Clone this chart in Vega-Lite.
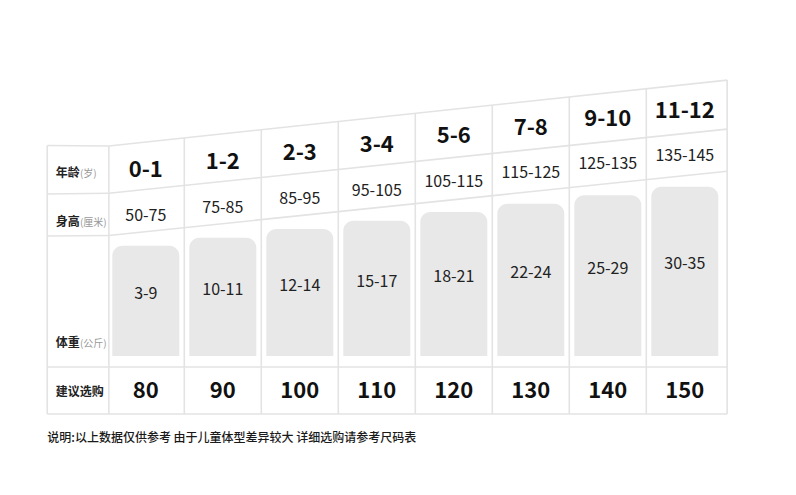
{
  "$schema": "https://vega.github.io/schema/vega-lite/v6.json",
  "width": 796,
  "height": 495,
  "autosize": {"type": "none"},
  "padding": 0,
  "background": "#ffffff",
  "config": {"view": {"stroke": null}, "text": {"font": "Noto Sans CJK SC"}},
  "datasets": {
    "cols": [
      {"col": 0, "age": "0-1", "ageY": 177.3, "height": "50-75", "heightY": 221, "weight": "3-9", "weightY": 299, "barTop": 245.7, "size": "80"},
      {"col": 1, "age": "1-2", "ageY": 169, "height": "75-85", "heightY": 212.7, "weight": "10-11", "weightY": 295, "barTop": 237.7, "size": "90"},
      {"col": 2, "age": "2-3", "ageY": 160.4, "height": "85-95", "heightY": 204, "weight": "12-14", "weightY": 291, "barTop": 229, "size": "100"},
      {"col": 3, "age": "3-4", "ageY": 152, "height": "95-105", "heightY": 196, "weight": "15-17", "weightY": 286.7, "barTop": 220.7, "size": "110"},
      {"col": 4, "age": "5-6", "ageY": 143.3, "height": "105-115", "heightY": 186.5, "weight": "18-21", "weightY": 282, "barTop": 212, "size": "120"},
      {"col": 5, "age": "7-8", "ageY": 134.7, "height": "115-125", "heightY": 177.7, "weight": "22-24", "weightY": 278.3, "barTop": 203.7, "size": "130"},
      {"col": 6, "age": "9-10", "ageY": 126.3, "height": "125-135", "heightY": 169.3, "weight": "25-29", "weightY": 274, "barTop": 195.3, "size": "140"},
      {"col": 7, "age": "11-12", "ageY": 118, "height": "135-145", "heightY": 161, "weight": "30-35", "weightY": 269.3, "barTop": 186.7, "size": "150"}
    ],
    "grid": [
      {"x": -1.28, "y": 145.5, "x2": -0.48, "y2": 146},
      {"x": -0.48, "y": 146, "x2": 7.55, "y2": 80.1},
      {"x": -1.28, "y": 194, "x2": -0.48, "y2": 193.3},
      {"x": -0.48, "y": 193.3, "x2": 7.55, "y2": 129.1},
      {"x": -1.28, "y": 236, "x2": -0.48, "y2": 235.5},
      {"x": -0.48, "y": 235.5, "x2": 7.55, "y2": 171.3},
      {"x": -1.28, "y": 367, "x2": 7.55, "y2": 367},
      {"x": -1.28, "y": 414, "x2": 7.55, "y2": 414},
      {"x": -1.28, "y": 145.5, "x2": -1.28, "y2": 414},
      {"x": -0.48, "y": 146, "x2": -0.48, "y2": 414},
      {"x": 0.5, "y": 137.96, "x2": 0.5, "y2": 414},
      {"x": 1.5, "y": 129.76, "x2": 1.5, "y2": 414},
      {"x": 2.5, "y": 121.56, "x2": 2.5, "y2": 414},
      {"x": 3.5, "y": 113.36, "x2": 3.5, "y2": 414},
      {"x": 4.5, "y": 105.16, "x2": 4.5, "y2": 414},
      {"x": 5.5, "y": 96.96, "x2": 5.5, "y2": 414},
      {"x": 6.5, "y": 88.76, "x2": 6.5, "y2": 414},
      {"x": 7.55, "y": 80.1, "x2": 7.55, "y2": 414}
    ],
    "rowLabels": [
      {"label": "年龄", "unit": "(岁)", "y": 177.3},
      {"label": "身高", "unit": "(厘米)", "y": 226.3},
      {"label": "体重", "unit": "(公斤)", "y": 347.3},
      {"label": "建议选购", "unit": "", "y": 395.6}
    ],
    "notes": [
      {"text": "说明:以上数据仅供参考 由于儿童体型差异较大 详细选购请参考尺码表", "x": -1.279, "y": 442.3}
    ]
  },
  "layer": [
    {
      "data": {"name": "cols"},
      "mark": {"type": "bar", "width": 67, "color": "#e8e8e8", "cornerRadiusTopLeft": 10, "cornerRadiusTopRight": 10},
      "encoding": {
        "x": {"field": "col", "type": "quantitative", "scale": {"domain": [-1.8935, 8.4442], "nice": false, "zero": false, "padding": 0}, "axis": null},
        "y": {"field": "barTop", "type": "quantitative", "scale": {"domain": [0, 495], "reverse": true, "nice": false, "zero": false, "padding": 0}, "axis": null},
        "y2": {"datum": 356}
      }
    },
    {
      "data": {"name": "grid"},
      "mark": {"type": "rule", "color": "#e3e3e3", "strokeWidth": 1.6},
      "encoding": {
        "x": {"field": "x", "type": "quantitative"},
        "y": {"field": "y", "type": "quantitative"},
        "x2": {"field": "x2"},
        "y2": {"field": "y2"}
      }
    },
    {
      "data": {"name": "cols"},
      "mark": {"type": "text", "fontSize": 22, "fontWeight": "bold", "color": "#111111", "align": "center", "baseline": "alphabetic"},
      "encoding": {
        "x": {"field": "col", "type": "quantitative"},
        "y": {"field": "ageY", "type": "quantitative"},
        "text": {"field": "age"}
      }
    },
    {
      "data": {"name": "cols"},
      "mark": {"type": "text", "fontSize": 16, "color": "#222222", "align": "center", "baseline": "alphabetic"},
      "encoding": {
        "x": {"field": "col", "type": "quantitative"},
        "y": {"field": "heightY", "type": "quantitative"},
        "text": {"field": "height"}
      }
    },
    {
      "data": {"name": "cols"},
      "mark": {"type": "text", "fontSize": 16, "color": "#222222", "align": "center", "baseline": "alphabetic"},
      "encoding": {
        "x": {"field": "col", "type": "quantitative"},
        "y": {"field": "weightY", "type": "quantitative"},
        "text": {"field": "weight"}
      }
    },
    {
      "data": {"name": "cols"},
      "mark": {"type": "text", "fontSize": 22, "fontWeight": "bold", "color": "#111111", "align": "center", "baseline": "alphabetic"},
      "encoding": {
        "x": {"field": "col", "type": "quantitative"},
        "y": {"datum": 397.5},
        "text": {"field": "size"}
      }
    },
    {
      "data": {"name": "rowLabels"},
      "mark": {"type": "text", "fontSize": 12, "fontWeight": "bold", "color": "#222222", "align": "left", "baseline": "alphabetic"},
      "encoding": {
        "x": {"datum": -1.17},
        "y": {"field": "y", "type": "quantitative"},
        "text": {"field": "label"}
      }
    },
    {
      "data": {"name": "rowLabels"},
      "mark": {"type": "text", "fontSize": 10, "color": "#999999", "align": "left", "baseline": "alphabetic"},
      "encoding": {
        "x": {"datum": -0.855},
        "y": {"field": "y", "type": "quantitative"},
        "text": {"field": "unit"}
      }
    },
    {
      "data": {"name": "notes"},
      "mark": {"type": "text", "fontSize": 12, "fontWeight": 500, "color": "#1a1a1a", "align": "left", "baseline": "alphabetic"},
      "encoding": {
        "x": {"field": "x", "type": "quantitative"},
        "y": {"field": "y", "type": "quantitative"},
        "text": {"field": "text"}
      }
    }
  ]
}
